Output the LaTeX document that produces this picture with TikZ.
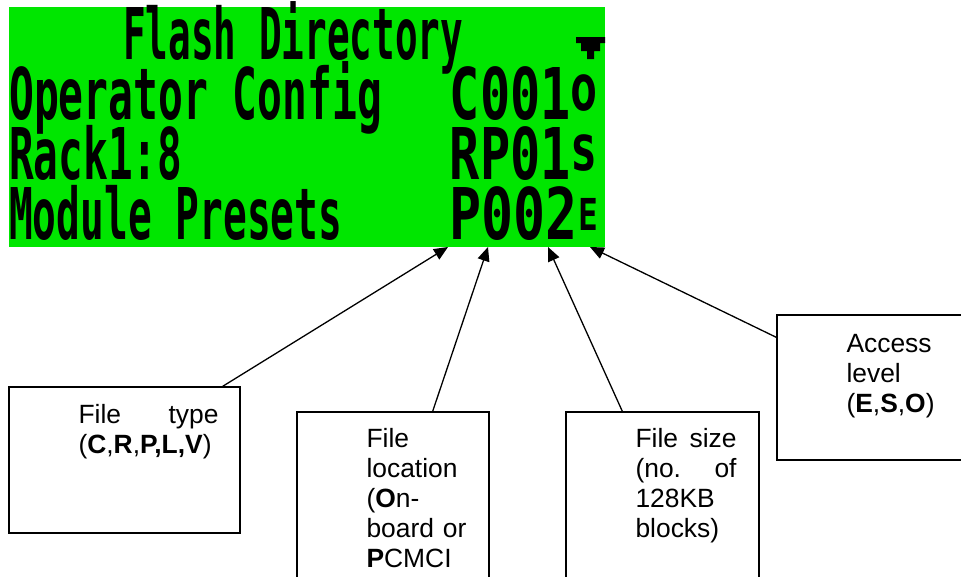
\documentclass[tikz,border=0pt]{standalone}
\usepackage{fontspec}
\setmainfont{Liberation Sans}
\newfontfamily\lcdfont{DejaVu Sans Mono}
\usetikzlibrary{arrows.meta, calc}
\definecolor{lcdGreen}{HTML}{00E600}
\newcommand\lvlmark[2][71.3]{\raisebox{9pt}{\fontsize{#1}{#1}\selectfont #2}}
\tikzset{
  sheet/.style = {
    font=\fontsize{26.4}{30}\selectfont,
    >={Triangle[length=14pt, width=12pt]},
  },
  screen/.style = {
    rectangle, fill=lcdGreen, draw=none, inner sep=0pt,
    minimum width=596pt, minimum height=240pt,
  },
  lcdrow/.style = {
    anchor=base west, inner sep=0pt, text=black,
    text height=52pt, text depth=0pt,
    font=\lcdfont\bfseries\fontsize{71.3}{72}\selectfont,
  },
  lcdcode/.style = {lcdrow, anchor=base east},
  infobox/.style = {
    rectangle, draw=black, line width=1.3pt, fill=white, inner sep=0pt,
  },
  boxtext/.style = {
    anchor=base west, inner sep=0pt, align=left, text width=101pt,
  },
  pointer/.style = {->, line width=1.3pt, draw=black},
}
\begin{document}
\begin{tikzpicture}[sheet, x=1pt, y=1pt]
\clip (0,0) rectangle (961,-576);

\node[screen] (lcd) at (307,-127) {};
\node[lcdrow]  (title) at (123,-59)  {\resizebox{340pt}{\height}{Flash Directory}};
\node[lcdrow]  (row1)  at (9,-119)   {\resizebox{373pt}{\height}{Operator Config}};
\node[lcdcode] (code1) at (598,-119) {\resizebox{148pt}{\height}{C001\lvlmark[64]{o}}};
\node[lcdrow]  (row2)  at (9,-179)   {\resizebox{173pt}{\height}{Rack1:8}};
\node[lcdcode] (code2) at (598,-179) {\resizebox{148pt}{\height}{RP01\lvlmark[64]{s}}};
\node[lcdrow]  (row3)  at (9,-239)   {\resizebox{333pt}{\height}{Module Presets}};
\node[lcdcode] (code3) at (598,-239) {\resizebox{148pt}{\height}{P002\lvlmark[44]{E}}};
% scroll marker
\fill (576,-37) -- (605,-37) -- (605,-43) -- (600,-43) -- (600,-51) -- (594,-51)
  -- (594,-59) -- (587,-59) -- (587,-51) -- (581,-51) -- (581,-43) -- (576,-43) -- cycle;

\coordinate (tiptype) at (448,-247);
\coordinate (tiploc)  at (488,-247);
\coordinate (tipsize) at (548,-247);
\coordinate (tipacc)  at (590,-247);

\node[infobox, minimum width=231pt, minimum height=146pt] (typebox) at (124.5,-460) {};
\node[infobox, minimum width=192pt, minimum height=188pt] (locbox)  at (393,-506)   {};
\node[infobox, minimum width=193pt, minimum height=188pt] (sizebox) at (662.5,-506) {};
\node[infobox, minimum width=192pt, minimum height=145pt] (accbox)  at (873,-387.5) {};

\node[boxtext, text width=140pt] (typetext) at ([shift={(70,-37)}]typebox.north west)
  {File\hfill type\\(\textbf{C},\textbf{R},\textbf{P,L,V})};
\node[boxtext] (loctext) at ([shift={(70,-36)}]locbox.north west)
  {File\\location\\(\textbf{O}n-\\board or\\\textbf{P}CMCI};
\node[boxtext] (sizetext) at ([shift={(70,-36)}]sizebox.north west)
  {File\hfill size\\(no.\hfill of\\128KB\\blocks)};
\node[boxtext] (acctext) at ([shift={(70,-38)}]accbox.north west)
  {Access\\level\\(\textbf{E},\textbf{S},\textbf{O})};

\draw[pointer] ([xshift=-18pt]typebox.north east) -- (tiptype);
\draw[pointer] ([xshift=-57pt]locbox.north east) -- (tiploc);
\draw[pointer] ([xshift=57pt]sizebox.north west) -- (tipsize);
\draw[pointer] ([yshift=-23pt]accbox.north west) -- (tipacc);

\end{tikzpicture}
\end{document}
